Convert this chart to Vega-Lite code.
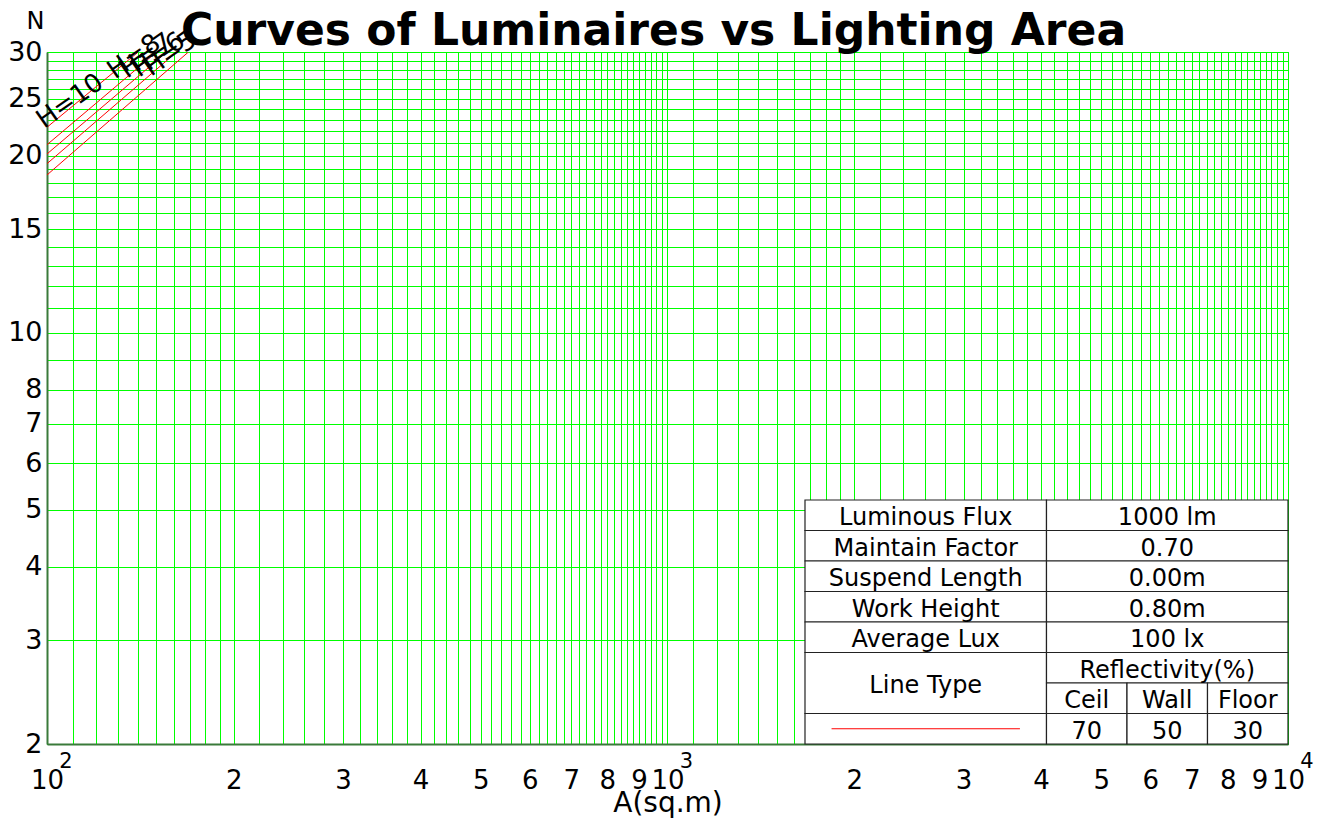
{
  "$schema": "https://vega.github.io/schema/vega-lite/v6.json",
  "width": 1241,
  "height": 692,
  "autosize": "none",
  "padding": {"left": 47, "top": 52, "right": 34, "bottom": 75},
  "background": "white",
  "title": {
    "text": "Curves of Luminaires vs Lighting Area",
    "font": "DejaVu Sans",
    "fontSize": 44,
    "fontWeight": "bold",
    "color": "black",
    "anchor": "middle",
    "frame": "group",
    "dx": -14,
    "dy": 51,
    "offset": 6
  },
  "config": {
    "view": {"stroke": "#555555", "strokeWidth": 1},
    "font": "DejaVu Sans"
  },
  "datasets": {
    "curves": [
      {"H": "H=10", "A": 100, "N": 22.35},
      {"H": "H=10", "A": 140.3, "N": 30},
      {"H": "H=8", "A": 100, "N": 20.87},
      {"H": "H=8", "A": 150.2, "N": 30},
      {"H": "H=7", "A": 100, "N": 20.13},
      {"H": "H=7", "A": 156, "N": 30},
      {"H": "H=6", "A": 100, "N": 19.38},
      {"H": "H=6", "A": 161.8, "N": 30},
      {"H": "H=5", "A": 100, "N": 18.54},
      {"H": "H=5", "A": 169, "N": 30}
    ],
    "curveLabels": [
      {"H": "H=10", "A": 98.9, "N": 22.2},
      {"H": "H=8", "A": 128.7, "N": 26.9},
      {"H": "H=7", "A": 134.6, "N": 27.0},
      {"H": "H=6", "A": 140.7, "N": 27.1},
      {"H": "H=5", "A": 147.1, "N": 27.2}
    ],
    "exponents": [
      {"A": 100, "N": 2, "s": "2"},
      {"A": 1000, "N": 2, "s": "3"},
      {"A": 10000, "N": 2, "s": "4"}
    ],
    "cells": [
      {"c0": 0, "c1": 3, "r0": 7, "r1": 8, "t": "Luminous Flux"},
      {"c0": 3, "c1": 6, "r0": 7, "r1": 8, "t": "1000 lm"},
      {"c0": 0, "c1": 3, "r0": 6, "r1": 7, "t": "Maintain Factor"},
      {"c0": 3, "c1": 6, "r0": 6, "r1": 7, "t": "0.70"},
      {"c0": 0, "c1": 3, "r0": 5, "r1": 6, "t": "Suspend Length"},
      {"c0": 3, "c1": 6, "r0": 5, "r1": 6, "t": "0.00m"},
      {"c0": 0, "c1": 3, "r0": 4, "r1": 5, "t": "Work Height"},
      {"c0": 3, "c1": 6, "r0": 4, "r1": 5, "t": "0.80m"},
      {"c0": 0, "c1": 3, "r0": 3, "r1": 4, "t": "Average Lux"},
      {"c0": 3, "c1": 6, "r0": 3, "r1": 4, "t": "100 lx"},
      {"c0": 0, "c1": 3, "r0": 1, "r1": 3, "t": "Line Type"},
      {"c0": 3, "c1": 6, "r0": 2, "r1": 3, "t": "Reflectivity(%)"},
      {"c0": 3, "c1": 4, "r0": 1, "r1": 2, "t": "Ceil"},
      {"c0": 4, "c1": 5, "r0": 1, "r1": 2, "t": "Wall"},
      {"c0": 5, "c1": 6, "r0": 1, "r1": 2, "t": "Floor"},
      {"c0": 0, "c1": 3, "r0": 0, "r1": 1, "t": ""},
      {"c0": 3, "c1": 4, "r0": 0, "r1": 1, "t": "70"},
      {"c0": 4, "c1": 5, "r0": 0, "r1": 1, "t": "50"},
      {"c0": 5, "c1": 6, "r0": 0, "r1": 1, "t": "30"}
    ],
    "legendLine": [
      {"c0": 0.33, "c1": 2.67, "r": 0.5}
    ]
  },
  "layer": [
    {
      "encoding": {
        "x": {
          "field": "A",
          "type": "quantitative",
          "scale": {"type": "log", "domain": [100, 10000], "nice": false},
          "axis": {
            "title": "A(sq.m)",
            "titleFont": "DejaVu Sans",
            "titleFontSize": 28,
            "titleFontWeight": "normal",
            "titleColor": "black",
            "titleBaseline": "alphabetic",
            "titleY": 67,
            "values": [100,110,120,130,140,150,160,170,180,190,200,220,240,260,280,300,320,340,360,380,400,420,440,460,480,500,520,540,560,580,600,620,640,660,680,700,720,740,760,780,800,820,840,860,880,900,920,940,960,980,1000,1100,1200,1300,1400,1500,1600,1700,1800,1900,2000,2200,2400,2600,2800,3000,3200,3400,3600,3800,4000,4200,4400,4600,4800,5000,5200,5400,5600,5800,6000,6200,6400,6600,6800,7000,7200,7400,7600,7800,8000,8200,8400,8600,8800,9000,9200,9400,9600,9800,10000],
            "labelExpr": "datum.value == 100 || datum.value == 1000 || datum.value == 10000 ? '10' : (indexof([200,300,400,500,600,700,800,900], datum.value) >= 0 ? format(datum.value / 100, 'd') : (indexof([2000,3000,4000,5000,6000,7000,8000,9000], datum.value) >= 0 ? format(datum.value / 1000, 'd') : ''))",
            "labelFont": "DejaVu Sans",
            "labelFontSize": 26,
            "labelColor": "black",
            "labelBaseline": "alphabetic",
            "labelPadding": 44,
            "labelOverlap": false,
            "labelFlush": false,
            "labelBound": false,
            "ticks": false,
            "grid": true,
            "gridColor": "#00ff00",
            "gridOpacity": 1,
            "gridWidth": 1,
            "domainColor": "#3a7a3a",
            "domainWidth": 2
          }
        },
        "y": {
          "field": "N",
          "type": "quantitative",
          "scale": {"type": "log", "domain": [2, 30], "nice": false},
          "axis": {
            "title": "N",
            "titleFont": "DejaVu Sans",
            "titleFontSize": 24,
            "titleFontWeight": "normal",
            "titleColor": "black",
            "titleAngle": 0,
            "titleAlign": "center",
            "titleBaseline": "middle",
            "titleX": -12,
            "titleY": -31,
            "values": [2,3,4,5,6,7,8,9,10,11,12,13,14,15,16,17,18,19,20,21,22,23,24,25,26,27,28,29,30],
            "labelExpr": "indexof([2,3,4,5,6,7,8,10,15,20,25,30], datum.value) >= 0 ? format(datum.value, 'd') : ''",
            "labelFont": "DejaVu Sans",
            "labelFontSize": 27,
            "labelColor": "black",
            "labelPadding": 5,
            "labelOverlap": false,
            "labelFlush": false,
            "labelBound": false,
            "ticks": false,
            "grid": true,
            "gridColor": "#00ff00",
            "gridOpacity": 1,
            "gridWidth": 1,
            "domainColor": "#3a7a3a",
            "domainWidth": 2
          }
        }
      },
      "layer": [
        {
          "data": {"name": "curves"},
          "mark": {"type": "line", "color": "#ff0000", "strokeWidth": 1, "clip": true},
          "encoding": {
            "detail": {"field": "H"},
            "order": {"field": "A", "type": "quantitative"}
          }
        },
        {
          "data": {"name": "curveLabels"},
          "mark": {"type": "text", "font": "DejaVu Sans", "fontSize": 26, "color": "black", "align": "left", "baseline": "alphabetic", "angle": 325},
          "encoding": {
            "text": {"field": "H"}
          }
        },
        {
          "data": {"name": "exponents"},
          "mark": {"type": "text", "font": "DejaVu Sans", "fontSize": 21, "color": "black", "align": "center", "baseline": "alphabetic", "dx": 19, "dy": 24},
          "encoding": {
            "text": {"field": "s"}
          }
        }
      ]
    },
    {
      "layer": [
        {
          "data": {"name": "cells"},
          "mark": {"type": "rect", "fill": "white", "stroke": "#222222", "strokeWidth": 1.2},
          "encoding": {
            "x": {"field": "c0", "type": "quantitative", "scale": {"domain": [-9.416, 6], "nice": false, "zero": false}, "axis": null},
            "x2": {"field": "c1"},
            "y": {"field": "r0", "type": "quantitative", "scale": {"domain": [0, 22.69], "nice": false, "zero": false}, "axis": null},
            "y2": {"field": "r1"}
          }
        },
        {
          "data": {"name": "cells"},
          "transform": [
            {"calculate": "(datum.c0 + datum.c1) / 2", "as": "cx"},
            {"calculate": "(datum.r0 + datum.r1) / 2", "as": "cy"}
          ],
          "mark": {"type": "text", "font": "DejaVu Sans", "fontSize": 24, "color": "black", "align": "center", "baseline": "middle", "dy": 3},
          "encoding": {
            "x": {"field": "cx", "type": "quantitative", "axis": null},
            "y": {"field": "cy", "type": "quantitative", "axis": null},
            "text": {"field": "t"}
          }
        },
        {
          "data": {"name": "legendLine"},
          "mark": {"type": "rule", "color": "#ff0000", "strokeWidth": 1},
          "encoding": {
            "x": {"field": "c0", "type": "quantitative", "axis": null},
            "x2": {"field": "c1"},
            "y": {"field": "r", "type": "quantitative", "axis": null}
          }
        }
      ]
    }
  ],
  "resolve": {"scale": {"x": "independent", "y": "independent"}}
}
